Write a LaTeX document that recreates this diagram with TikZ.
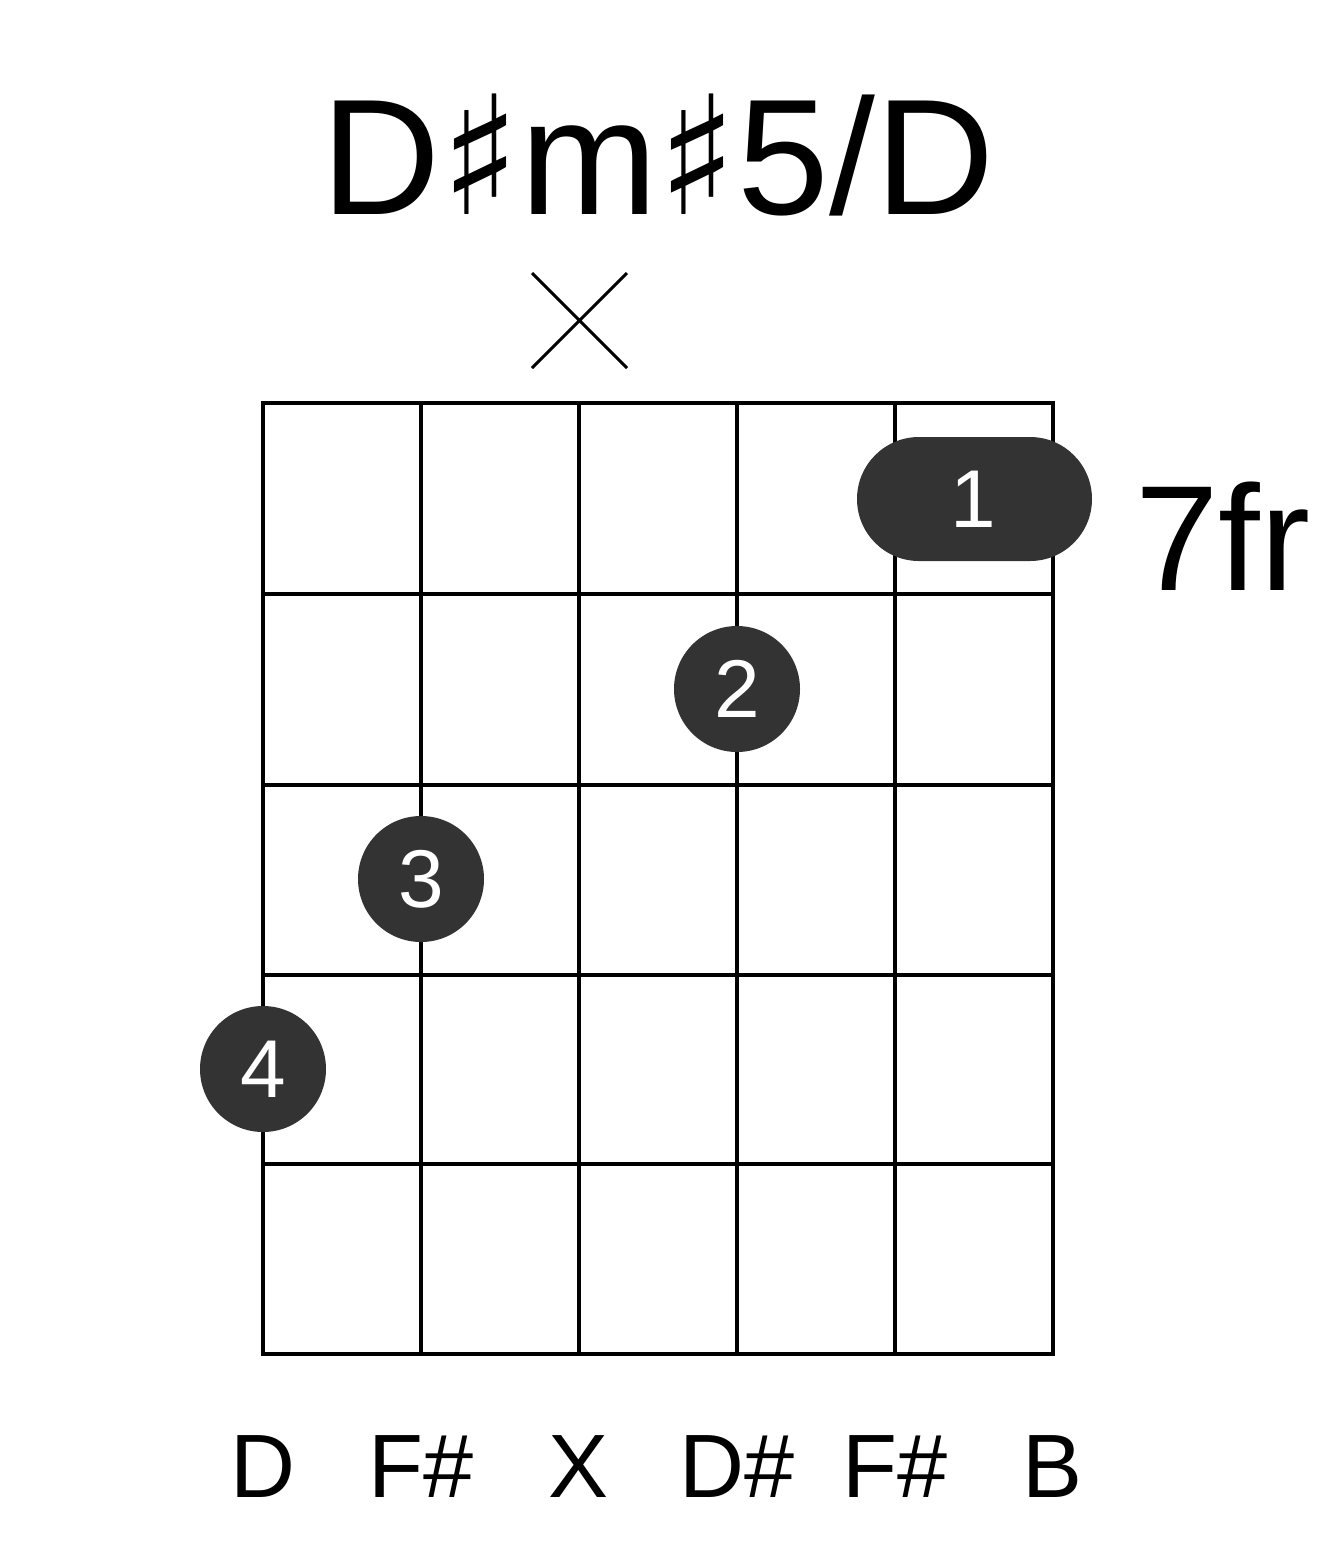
\documentclass[tikz,border=0pt]{standalone}
\usepackage{fontspec}
\setmainfont{Liberation Sans}
\newfontfamily\symfont{DejaVu Sans}
\definecolor{dot}{HTML}{333333}
\begin{document}
\begin{tikzpicture}[x=1pt,y=-1pt,
  fingerdot/.style={circle,fill=dot,minimum size=126pt,inner sep=0pt,text=white,font=\fontsize{82}{90}\selectfont},
  strlabel/.style={font=\fontsize{90}{100}\selectfont,anchor=base}]
\useasboundingbox[fill=white] (0,0) rectangle (1317,1551);
\node (title) at (658,155) {\fontsize{165}{180}\selectfont D{\symfont ♯}m{\symfont ♯}5/D};
\draw[line width=3pt] (532,273) -- (627,368) (627,273) -- (532,368);
\foreach \x in {263,421,579,737,895,1053} \draw[line width=4pt] (\x,403) -- (\x,1354);
\foreach \y in {403,594,785,975,1164,1354} \draw[line width=4pt] (261,\y) -- (1055,\y);
\fill[dot,rounded corners=62pt] (857,437) rectangle (1092,561);
\node[text=white,font=\fontsize{82}{90}\selectfont] (f1) at (973,499) {1};
\node[fingerdot] (f2) at (737,689) {2};
\node[fingerdot] (f3) at (421,879) {3};
\node[fingerdot] (f4) at (263,1069) {4};
\node[anchor=base west,font=\fontsize{150}{160}\selectfont,inner sep=0pt] (fr) at (1135,590) {7fr};
\foreach \x/\t/\n in {263/D/a,421/F\#/b,579/X/c,737/D\#/d,895/F\#/e,1053/B/f}
  \node[strlabel] (l\n) at (\x,1497) {\t};
\end{tikzpicture}
\end{document}
